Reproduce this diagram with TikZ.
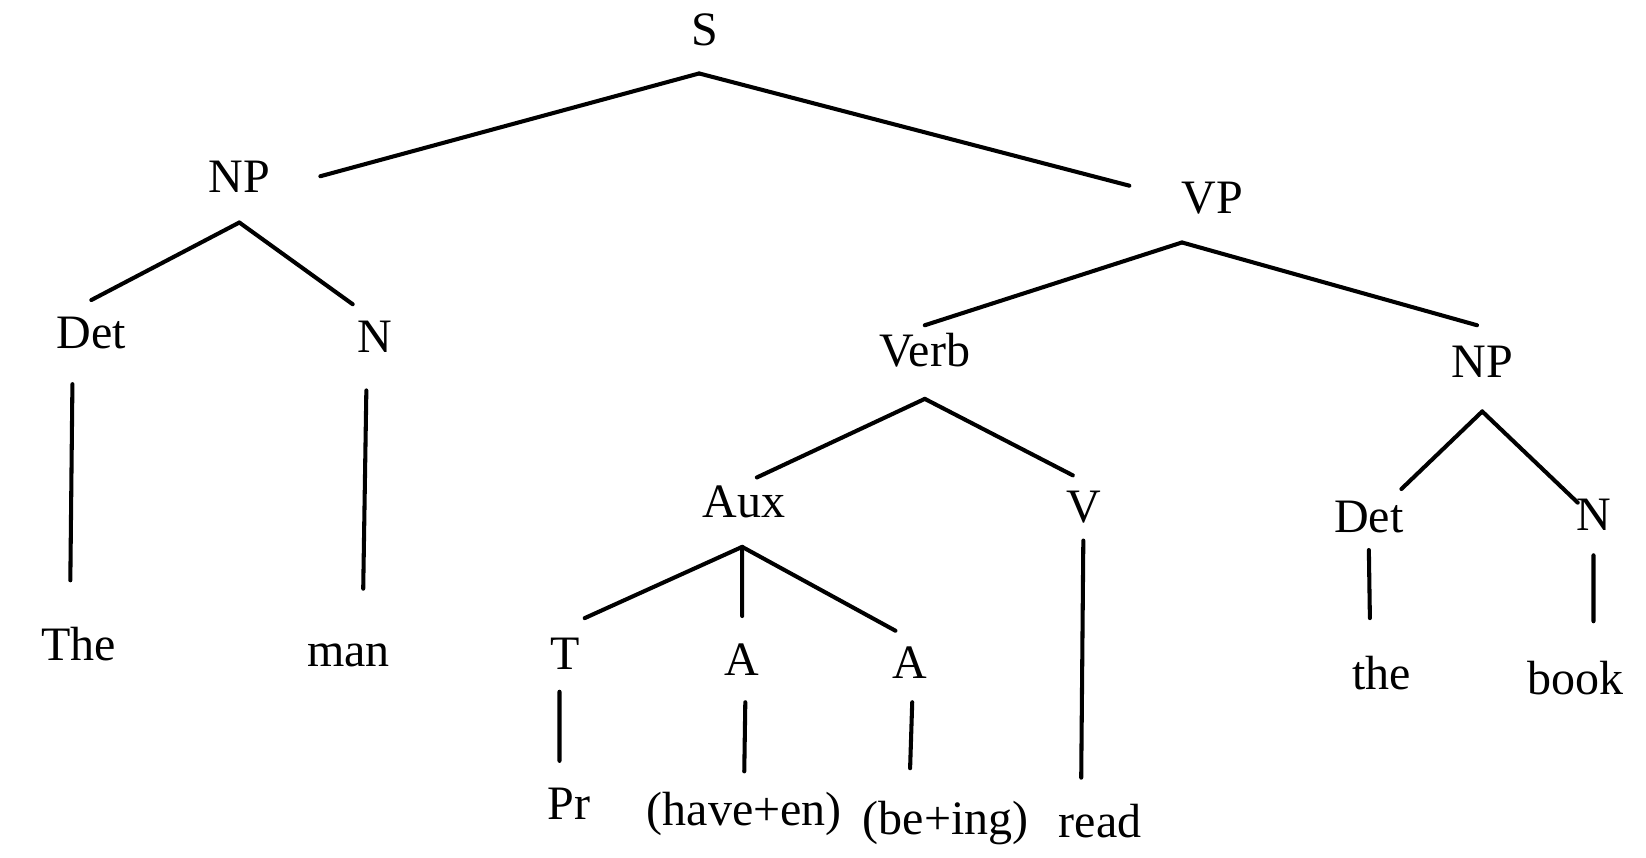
\documentclass[tikz,border=0pt]{standalone}
\usepackage{fontspec}
\setmainfont{Liberation Serif}

\begin{document}
\begin{tikzpicture}[x=0.01cm,y=-0.01cm,line width=1.1pt,line cap=round,
  lbl/.style={inner sep=0pt,anchor=base,text height=8.6pt,text depth=0pt,font=\fontsize{13pt}{15pt}\selectfont}]
\useasboundingbox (0,0) rectangle (1568,817);
% labels, placed at their baselines
\node [lbl] (s) at (671,43) {S};
\node [lbl] (np1) at (228,183) {NP};
\node [lbl] (vp) at (1155,203) {VP};
\node [lbl] (det1) at (87,332) {Det};
\node [lbl] (n1) at (357,336) {N};
\node [lbl] (verb) at (881,349) {Verb};
\node [lbl] (np2) at (1412,360) {NP};
\node [lbl] (aux) at (709,493) {Aux};
\node [lbl] (v) at (1032,498) {V};
\node [lbl] (det2) at (1304,507) {Det};
\node [lbl] (n2) at (1518,505) {N};
\node [lbl] (the1) at (75,629) {The};
\node [lbl] (man) at (332,635) {man};
\node [lbl] (t) at (538,638) {T};
\node [lbl] (a1) at (707,643) {A};
\node [lbl] (a2) at (867,646) {A};
\node [lbl] (the2) at (1316,657) {the};
\node [lbl] (book) at (1501,662) {book};
\node [lbl] (pr) at (542,781) {Pr};
\node [lbl] (have) at (709,786) {(have+en)};
\node [lbl] (being) at (901,795) {(be+ing)};
\node [lbl] (read) at (1048,798) {read};

% branches
\draw ([xshift=-0.5mm,yshift=-2.5mm]s.south) -- ([xshift=4.6mm]np1.east);
\draw ([xshift=-0.5mm,yshift=-2.5mm]s.south) -- ([xshift=-4.8mm,yshift=1.1mm]vp.west);
\draw ([yshift=-2.7mm]np1.south) -- ([yshift=1.4mm]det1.north);
\draw ([yshift=-2.7mm]np1.south) -- ([xshift=-2.1mm,yshift=1.4mm]n1.north);
\draw ([xshift=-2.9mm,yshift=-2.6mm]vp.south) -- ([yshift=0.7mm]verb.north);
\draw ([xshift=-2.9mm,yshift=-2.6mm]vp.south) -- ([xshift=-0.5mm,yshift=1.8mm]np2.north);
\draw ([yshift=-2.9mm]verb.south) -- ([xshift=1.2mm,yshift=0.6mm]aux.north);
\draw ([yshift=-2.9mm]verb.south) -- ([xshift=-1mm,yshift=1.3mm]v.north);
\draw ([yshift=-3mm]np2.south) -- ([xshift=3.1mm,yshift=0.9mm]det2.north);
\draw ([yshift=-3mm]np2.south) -- ([xshift=-1.5mm,yshift=-0.6mm]n2.north);
\draw ([xshift=-0.2mm,yshift=-2.6mm]aux.south) -- ([xshift=1.9mm,yshift=1.7mm]t.north);
\draw ([xshift=-0.2mm,yshift=-2.6mm]aux.south) -- ([yshift=2.4mm]a1.north);
\draw ([xshift=-0.2mm,yshift=-2.6mm]aux.south) -- ([xshift=-1.4mm,yshift=1.3mm]a2.north);

% stems
\draw ([xshift=-1.8mm,yshift=-3.2mm]det1.south) -- ([xshift=-0.8mm,yshift=4.4mm]the1.north);
\draw ([xshift=-0.8mm,yshift=-3.4mm]n1.south) -- ([xshift=1.4mm,yshift=4.2mm]man.north);
\draw ([yshift=-1.5mm]v.south) -- ([xshift=-1.8mm,yshift=2.5mm]read.north);
\draw ([yshift=-1.5mm]det2.south) -- ([xshift=-1.1mm,yshift=3.6mm]the2.north);
\draw ([yshift=-2.2mm]n2.south) -- ([xshift=1.7mm,yshift=3.8mm]book.north);
\draw ([xshift=-0.5mm,yshift=-1.9mm]t.south) -- ([xshift=-0.9mm,yshift=2.4mm]pr.north);
\draw ([xshift=0.3mm,yshift=-2.4mm]a1.south) -- ([yshift=1.9mm]have.north);
\draw ([xshift=0.2mm,yshift=-2.1mm]a2.south) -- ([xshift=-3.4mm,yshift=3.1mm]being.north);
\end{tikzpicture}
\end{document}
